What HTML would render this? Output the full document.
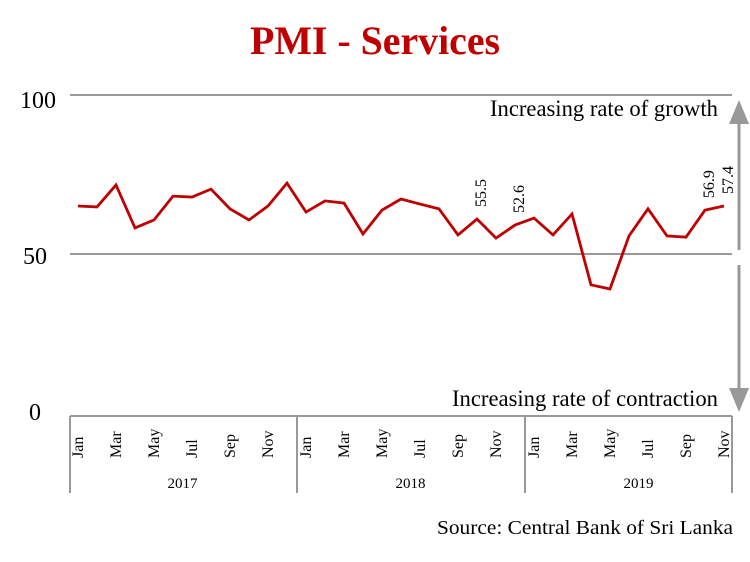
<!DOCTYPE html>
<html><head><meta charset="utf-8"><style>
body{margin:0;background:#fff;}
svg text{font-family:"Liberation Serif",serif;}
</style></head><body>
<svg width="750" height="557" viewBox="0 0 750 557" id="chart">
<text x="375" y="54" text-anchor="middle" font-size="40" font-weight="bold" fill="#c00000" textLength="250" lengthAdjust="spacingAndGlyphs">PMI - Services</text>
<line x1="70" y1="95" x2="732" y2="95" stroke="#999" stroke-width="2"/>
<line x1="70" y1="254" x2="732" y2="254" stroke="#999" stroke-width="2"/>
<line x1="70" y1="416" x2="732" y2="416" stroke="#999" stroke-width="2"/>
<text x="38" y="108" text-anchor="middle" font-size="24">100</text>
<text x="35" y="264" text-anchor="middle" font-size="24">50</text>
<text x="35" y="420" text-anchor="middle" font-size="24">0</text>
<text x="718" y="116" text-anchor="end" font-size="23" textLength="228" lengthAdjust="spacingAndGlyphs">Increasing rate of growth</text>
<text x="718" y="406" text-anchor="end" font-size="23" textLength="266" lengthAdjust="spacingAndGlyphs">Increasing rate of contraction</text>
<g><line x1="739" y1="120" x2="739" y2="250" stroke="#999" stroke-width="3"/><polygon points="729,124 749,124 739,100" fill="#999"/></g>
<g><line x1="739" y1="265" x2="739" y2="392" stroke="#999" stroke-width="3"/><polygon points="729,388 749,388 739,412" fill="#999"/></g>
<g id="xaxis"></g>
<g id="series"></g>
<text x="733" y="534" text-anchor="end" font-size="20" textLength="296" lengthAdjust="spacingAndGlyphs">Source: Central Bank of Sri Lanka</text>
</svg>
<script>
const months=["Jan","Feb","Mar","Apr","May","Jun","Jul","Aug","Sep","Oct","Nov","Dec"];
const years=["2017","2018","2019"];
const values=[65.1,64.8,71.7,58.2,60.7,68.2,67.9,70.4,64.2,60.7,65.1,72.3,63.2,66.7,66.0,56.3,63.8,67.3,65.7,64.2,56.0,61.0,55.0,59.1,61.3,56.0,62.6,40.3,39.0,55.7,64.2,55.7,55.3,63.8,65.1];
const annotIdx=[21,23,33,34];
const annotText=["55.5","52.6","56.9","57.4"];
const NS="http://www.w3.org/2000/svg";
function xs(i){return 78+i*19.0;}
function ys(v){return 413-v*3.18;}
const ax=document.getElementById('xaxis'),sr=document.getElementById('series');
function mk(tag,attrs,parent){const e=document.createElementNS(NS,tag);for(const k in attrs)e.setAttribute(k,attrs[k]);parent.appendChild(e);return e;}
[70,297,525,732].forEach(x=>{const l=mk('line',{x1:x,y1:416,x2:x,y2:493,stroke:'#999','stroke-width':2},ax);

});
for(let i=0;i<36;i+=2){const x=xs(i),t=mk('text',{x:0,y:0,'font-size':16,transform:`translate(${x+5},458) rotate(-90)`},ax);t.textContent=months[i%12];

}
years.forEach((y,k)=>{const t=mk('text',{x:(xs(k*12)+xs(k*12+11))/2,y:488,'text-anchor':'middle','font-size':15},ax);t.textContent=y;

});
const pl=mk('polyline',{points:values.map((v,i)=>xs(i)+','+ys(v)).join(' '),fill:'none',stroke:'#c00000','stroke-width':2.8,'stroke-linejoin':'miter'},sr);


annotIdx.forEach((i,k)=>{const x=xs(i),y=ys(values[i])-12;const t=mk('text',{x:0,y:0,'font-size':16,transform:`translate(${x+9},${y}) rotate(-90)`},sr);t.textContent=annotText[k];

});
</script>
</body></html>
